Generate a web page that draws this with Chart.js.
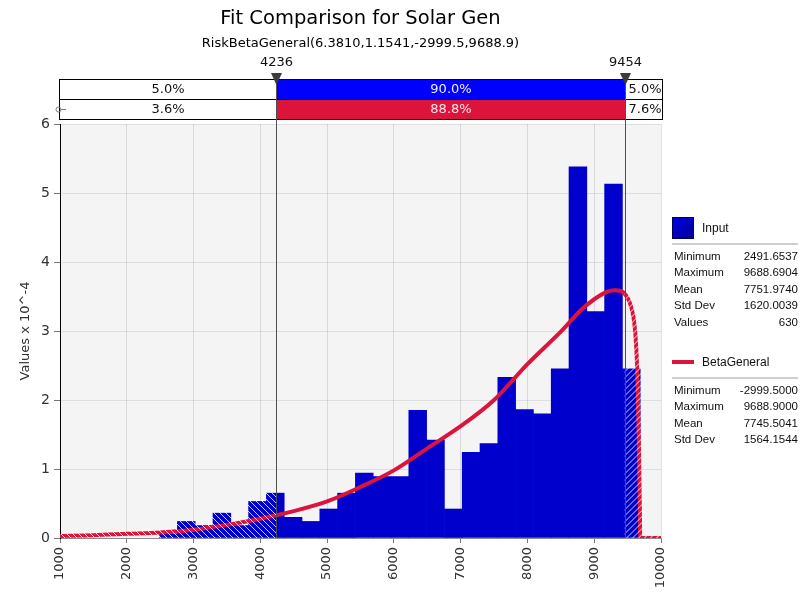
<!DOCTYPE html>
<html>
<head>
<meta charset="utf-8">
<title>Fit Comparison for Solar Gen</title>
<script src="https://cdn.jsdelivr.net/npm/chart.js@4.4.1/dist/chart.umd.min.js"></script>
<style>
  body { margin: 0; background: #fff; }
  #wrap { position: relative; width: 809px; height: 593px; }
  #legend { position: absolute; left: 672px; top: 0; width: 127px; height: 593px;
            font-family: "Liberation Sans", Arial, sans-serif; font-size: 11.5px; color: #111; }
  #legend div { position: absolute; }
  .row { left: 2px; right: 1px; height: 16px; line-height: 16px; white-space: nowrap; }
  .row .v { position: absolute; right: 0; top: 0; }
  .sep { left: 0; width: 126px; height: 0; border-top: 2px solid #cfcfcf; }
  .name { left: 30px; height: 16px; line-height: 16px; font-size: 12px; }
</style>
</head>
<body>
<div id="wrap">
  <canvas id="fit-chart" width="809" height="593"></canvas>
  <div id="legend"></div>
</div>
<script>
// fit-chart.js

const titleText = "Fit Comparison for Solar Gen";
const subtitleText = "RiskBetaGeneral(6.3810,1.1541,-2999.5,9688.9)";

// 90% band cut points
const cutLow = 4236;
const cutHigh = 9454;
const inputPct = ["5.0%", "90.0%", "5.0%"];
const fitPct = ["3.6%", "88.8%", "7.6%"];

// histogram bins (left edges + last right edge) and heights (x 10^-4)
const binEdges = [2491.7, 2758.2, 3024.8, 3291.3, 3557.9, 3824.5, 4091.0, 4357.6, 4624.1, 4890.7,
                  5157.3, 5423.8, 5690.4, 5956.9, 6223.5, 6490.1, 6756.6, 7023.2, 7289.7, 7556.3,
                  7822.9, 8089.4, 8356.0, 8622.5, 8889.1, 9155.7, 9422.2, 9688.7];
const binHeights = [0.06, 0.24, 0.18, 0.36, 0.18, 0.53, 0.65, 0.30, 0.24, 0.42,
                    0.65, 0.94, 0.89, 0.89, 1.85, 1.42, 0.42, 1.24, 1.37, 2.33,
                    1.86, 1.80, 2.45, 5.38, 3.28, 5.13, 2.45];

// fitted BetaGeneral curve
const fitX = [1000, 1500, 2000, 2500, 3000, 3500, 4000, 4500, 5000, 5500, 6000, 6500, 7000, 7500,
              8000, 8500, 8800, 9000, 9200, 9300, 9400, 9500, 9550, 9600, 9630, 9650, 9670, 9685, 9689, 10000];
const fitY = [0.03, 0.04, 0.06, 0.08, 0.12, 0.19, 0.28, 0.39, 0.53, 0.74, 0.98, 1.30, 1.62, 2.00,
              2.52, 2.99, 3.30, 3.46, 3.57, 3.59, 3.58, 3.48, 3.36, 3.12, 2.75, 2.25, 1.30, 0.30, 0, 0];

// legend stats
const statLabels = ["Minimum", "Maximum", "Mean", "Std Dev", "Values"];
const inputStats = ["2491.6537", "9688.6904", "7751.9740", "1620.0039", "630"];
const fitStats = ["-2999.5000", "9688.9000", "7745.5041", "1564.1544"];

const barData = binHeights.map((h, i) => ({ x: (binEdges[i] + binEdges[i + 1]) / 2, y: h }));
const lineData = fitX.map((v, i) => ({ x: v, y: fitY[i] }));

// full-canvas fill: solid in the middle, hatched outside the cut points
const patternCache = {};
function hatchFill(chart, base, stripe) {
    const xs = chart.scales.x;
    if (!xs || !chart.chartArea) return base;
    const lo = xs.getPixelForValue(cutLow), hi = xs.getPixelForValue(cutHigh);
    const key = base + chart.width + "x" + chart.height + ":" + lo.toFixed(1) + ":" + hi.toFixed(1);
    if (patternCache[key]) return patternCache[key];

    const c = document.createElement("canvas");
    c.width = chart.width; c.height = chart.height;
    const g = c.getContext("2d");
    const H = c.height;
    g.fillStyle = base;
    g.fillRect(0, 0, c.width, H);
    g.strokeStyle = stripe;
    g.lineWidth = 1;

    g.save();
    g.beginPath(); g.rect(0, 0, lo, H); g.clip();
    for (let s = -H; s < lo + 6; s += 6) {
        g.beginPath(); g.moveTo(s, 0); g.lineTo(s + H, H); g.stroke();
    }
    g.restore();

    g.save();
    g.beginPath(); g.rect(hi, 0, c.width - hi, H); g.clip();
    for (let s = hi; s < c.width + H; s += 6) {
        g.beginPath(); g.moveTo(s, 0); g.lineTo(s - H, H); g.stroke();
    }
    g.restore();

    patternCache[key] = chart.ctx.createPattern(c, "no-repeat");
    return patternCache[key];
}

const overlay = {
    id: "overlay",
    beforeDraw(chart) {
        const { ctx, chartArea: a } = chart;
        ctx.save();
        ctx.fillStyle = "#f4f4f4";
        ctx.fillRect(a.left, a.top, a.right - a.left, a.bottom - a.top);
        ctx.restore();
    },
    afterDraw(chart) {
        const { ctx, chartArea: a } = chart;
        const xs = chart.scales.x;
        const lo = Math.round(xs.getPixelForValue(cutLow)) + 0.5;
        const hi = Math.round(xs.getPixelForValue(cutHigh)) + 0.5;
        const cx = (a.left + a.right) / 2;

        ctx.save();
        ctx.textAlign = "center";
        ctx.textBaseline = "middle";
        ctx.fillStyle = "#000";
        ctx.font = '19.5px "DejaVu Sans"';
        ctx.fillText(titleText, cx, 19);
        ctx.font = '13px "DejaVu Sans"';
        ctx.fillText(subtitleText, cx, 44);

        // band rows
        const L = a.left - 0.5, R = a.right + 1.5;
        const rows = [
            { top: 79.5, pct: inputPct, fill: "#0000ff", txt: "#eeeeff" },
            { top: 99.5, pct: fitPct, fill: "#dc143c", txt: "#ffe6ec" }
        ];
        rows.forEach(r => {
            const edges = [L, lo, hi, R];
            for (let i = 0; i < 3; i++) {
                ctx.fillStyle = i === 1 ? r.fill : "#fff";
                ctx.fillRect(edges[i], r.top, edges[i + 1] - edges[i], 20);
            }
            ctx.strokeStyle = "#000";
            ctx.lineWidth = 1;
            ctx.strokeRect(L, r.top, R - L, 20);
            ctx.font = '13px "DejaVu Sans"';
            for (let i = 0; i < 3; i++) {
                ctx.fillStyle = i === 1 ? r.txt : "#111";
                ctx.fillText(r.pct[i], (edges[i] + edges[i + 1]) / 2 + (i === 2 ? 1 : 0), r.top + 10.5);
            }
        });

        // little handle on the fit row
        ctx.strokeStyle = "#777";
        ctx.beginPath(); ctx.arc(58.5, 109.5, 2.5, 0, Math.PI * 2); ctx.stroke();
        ctx.beginPath(); ctx.moveTo(61, 109.5); ctx.lineTo(66, 109.5); ctx.stroke();

        // cut markers
        [[lo, cutLow], [hi, cutHigh]].forEach(([p, v]) => {
            ctx.strokeStyle = "#505050";
            ctx.lineWidth = 1;
            ctx.beginPath(); ctx.moveTo(p, 76); ctx.lineTo(p, a.bottom); ctx.stroke();
            ctx.fillStyle = "#3c3c3c";
            ctx.beginPath();
            ctx.moveTo(p - 5.5, 73); ctx.lineTo(p + 5.5, 73); ctx.lineTo(p, 85);
            ctx.closePath(); ctx.fill();
            ctx.fillStyle = "#111";
            ctx.font = '13px "DejaVu Sans"';
            ctx.fillText(String(v), p, 63);
        });
        ctx.restore();
    }
};

const tickFont = { family: "DejaVu Sans", size: 13 };

new Chart(document.getElementById("fit-chart"), {
    type: "bar",
    data: {
        datasets: [
            {
                type: "line",
                label: "BetaGeneral",
                data: lineData,
                borderColor: c => hatchFill(c.chart, "#dc143c", "rgba(255,255,255,0.85)"),
                borderWidth: 4,
                pointRadius: 0,
                fill: false,
                cubicInterpolationMode: "monotone",
                order: 0
            },
            {
                type: "bar",
                label: "Input",
                data: barData,
                backgroundColor: c => hatchFill(c.chart, "#0000cc", "rgba(215,215,255,0.95)"),
                borderWidth: 0,
                barPercentage: 1,
                categoryPercentage: 1,
                order: 1
            }
        ]
    },
    options: {
        responsive: false,
        animation: false,
        layout: { padding: { top: 124, right: 148, left: 0, bottom: 0 } },
        plugins: { legend: { display: false }, tooltip: { enabled: false } },
        scales: {
            x: {
                type: "linear",
                min: 1000,
                max: 10000,
                offset: false,
                z: 1,
                grid: { color: "rgba(0,0,0,0.11)", offset: false, tickLength: 5, tickColor: "#777" },
                border: { color: "#8c8c8c" },
                ticks: {
                    stepSize: 1000, autoSkip: false, minRotation: 90, maxRotation: 90,
                    padding: 4, color: "#333", font: tickFont,
                    callback: v => String(v)
                },
                afterFit: s => { s.height = 55; }
            },
            y: {
                min: 0,
                max: 6,
                z: 1,
                grid: { color: "rgba(0,0,0,0.09)", tickLength: 6, tickColor: "#777" },
                border: { color: "#000" },
                ticks: { stepSize: 1, padding: 4, color: "#333", font: { family: "DejaVu Sans", size: 14 } },
                title: {
                    display: true, text: "Values x 10^-4", color: "#333",
                    font: { family: "DejaVu Sans", size: 13 }, padding: { top: 18, bottom: 0 }
                },
                afterFit: s => { s.width = 60; }
            }
        }
    },
    plugins: [overlay]
});

// legend panel
const legendEl = document.getElementById("legend");
function addEl(cls, top, html, style) {
    const d = document.createElement("div");
    d.className = cls;
    d.style.top = top + "px";
    if (style) Object.assign(d.style, style);
    d.innerHTML = html;
    legendEl.appendChild(d);
}
addEl("", 217, "", { left: "0px", width: "20px", height: "20px", border: "1px solid #00005a",
                     background: "linear-gradient(135deg, #0000e0, #00009a)" });
addEl("name", 220, "Input");
addEl("sep", 243, "");
inputStats.forEach((v, i) => addEl("row", 248 + i * 16.4, statLabels[i] + '<span class="v">' + v + "</span>"));

addEl("", 360, "", { left: "0px", width: "22px", height: "4px", background: "#dc143c" });
addEl("name", 354, "BetaGeneral");
addEl("sep", 377, "");
fitStats.forEach((v, i) => addEl("row", 382 + i * 16.4, statLabels[i] + '<span class="v">' + v + "</span>"));
</script>
</body>
</html>
